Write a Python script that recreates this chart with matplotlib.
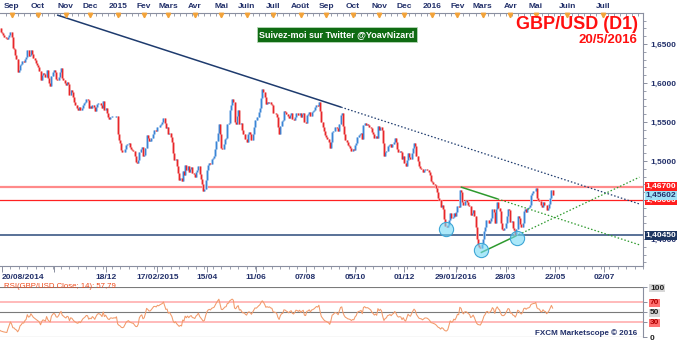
import numpy as np
import matplotlib
matplotlib.use("Agg")
import matplotlib.pyplot as plt
import matplotlib.transforms as mtransforms
from matplotlib.ticker import FixedLocator

# ---------------- data ----------------
first_session = "2014-07-21"   # first close in the list (kept for RSI warm-up)
origin_session = "2014-08-20"  # session index 0
last_session = "2016-05-20"

closes = [
    # Jul 21 - Aug 19 2014 (warm-up, left of the visible range)
    1.7090, 1.7060, 1.7040, 1.7000, 1.6985,
    1.6990, 1.6980, 1.6920, 1.6885, 1.6835,
    1.6870, 1.6870, 1.6855, 1.6815, 1.6795,
    1.6790, 1.6750, 1.6705, 1.6720, 1.6700,
    1.6710, 1.6660,
    # Aug 20 2014 onwards
    1.6640, 1.6610, 1.6590,
    1.6575, 1.6560, 1.6590, 1.6620, 1.6650,
    1.6590, 1.6450, 1.6440, 1.6360, 1.6310,
    1.6140, 1.6170, 1.6230, 1.6250, 1.6280,
    1.6270, 1.6310, 1.6330, 1.6420, 1.6350,
    1.6360, 1.6420, 1.6370, 1.6320, 1.6290,
    1.6260, 1.6230, 1.6200, 1.6160, 1.6040,
    1.6100, 1.6130, 1.6110, 1.6080, 1.6170,
    1.6060, 1.6000, 1.5960, 1.6090, 1.6140,
    1.6170, 1.6140, 1.6050, 1.6040, 1.6080,
    1.6140, 1.6190, 1.6070, 1.6040, 1.6000,
    1.5970, 1.6010, 1.5990, 1.5840, 1.5910,
    1.5890, 1.5820, 1.5760, 1.5720, 1.5680,
    1.5660, 1.5690, 1.5650, 1.5680, 1.5720,
    1.5740, 1.5760, 1.5790, 1.5780, 1.5680,
    1.5700, 1.5680, 1.5720, 1.5690, 1.5640,
    1.5690, 1.5730, 1.5750, 1.5740, 1.5720,
    1.5680, 1.5770, 1.5650, 1.5680, 1.5620,
    1.5560, 1.5540, 1.5570, 1.5570, 1.5560,
    1.5570, 1.5560, 1.5580, 1.5340, 1.5270,
    1.5230, 1.5140, 1.5110, 1.5120, 1.5160,
    1.5200, 1.5220, 1.5230, 1.5180, 1.5160,
    1.5140, 1.5130, 1.5060, 1.4990, 1.4980,
    1.5010, 1.5120, 1.5160, 1.5180, 1.5060,
    1.5080, 1.5170, 1.5330, 1.5300, 1.5260,
    1.5260, 1.5300, 1.5350, 1.5400, 1.5400,
    1.5390, 1.5440, 1.5430, 1.5460, 1.5480,
    1.5500, 1.5550, 1.5490, 1.5420, 1.5430,
    1.5340, 1.5360, 1.5310, 1.5250, 1.5100,
    1.5010, 1.5030, 1.4930, 1.4850, 1.4760,
    1.4780, 1.4740, 1.4870, 1.4820, 1.4950,
    1.4880, 1.4930, 1.4860, 1.4900, 1.4920,
    1.4840, 1.4830, 1.4800, 1.4860, 1.4890,
    1.4940, 1.4830, 1.4770, 1.4700, 1.4620,
    1.4640, 1.4760, 1.4880, 1.4950, 1.4980,
    1.4960, 1.5020, 1.5040, 1.5060, 1.5150,
    1.5260, 1.5360, 1.5480, 1.5350, 1.5170,
    1.5160, 1.5220, 1.5280, 1.5300, 1.5470,
    1.5490, 1.5650, 1.5720, 1.5790, 1.5760,
    1.5500, 1.5470, 1.5580, 1.5650, 1.5470,
    1.5490, 1.5400, 1.5340, 1.5350, 1.5280,
    1.5240, 1.5340, 1.5370, 1.5340, 1.5270,
    1.5350, 1.5440, 1.5530, 1.5520, 1.5570,
    1.5630, 1.5680, 1.5810, 1.5920, 1.5880,
    1.5820, 1.5730, 1.5760, 1.5740, 1.5760,
    1.5730, 1.5720, 1.5620, 1.5610, 1.5600,
    1.5570, 1.5440, 1.5350, 1.5450, 1.5510,
    1.5520, 1.5640, 1.5630, 1.5600, 1.5580,
    1.5550, 1.5590, 1.5610, 1.5540, 1.5520,
    1.5560, 1.5620, 1.5610, 1.5590, 1.5620,
    1.5570, 1.5600, 1.5620, 1.5500, 1.5490,
    1.5590, 1.5600, 1.5630, 1.5580, 1.5630,
    1.5640, 1.5660, 1.5690, 1.5720, 1.5710,
    1.5760, 1.5640, 1.5500, 1.5440, 1.5380,
    1.5330, 1.5310, 1.5280, 1.5250, 1.5170,
    1.5240, 1.5370, 1.5390, 1.5430, 1.5440,
    1.5420, 1.5380, 1.5480, 1.5590, 1.5610,
    1.5450, 1.5340, 1.5270, 1.5240, 1.5200,
    1.5190, 1.5170, 1.5130, 1.5150, 1.5140,
    1.5200, 1.5230, 1.5310, 1.5330, 1.5340,
    1.5360, 1.5280, 1.5460, 1.5490, 1.5460,
    1.5470, 1.5460, 1.5440, 1.5420, 1.5370,
    1.5340, 1.5300, 1.5320, 1.5290, 1.5450,
    1.5400, 1.5440, 1.5400, 1.5230, 1.5060,
    1.5110, 1.5130, 1.5190, 1.5200, 1.5220,
    1.5180, 1.5220, 1.5240, 1.5290, 1.5240,
    1.5160, 1.5120, 1.5130, 1.5120, 1.5030,
    1.5070, 1.4980, 1.4940, 1.5010, 1.5100,
    1.5050, 1.5030, 1.5100, 1.5170, 1.5230,
    1.5190, 1.5070, 1.5000, 1.4930, 1.4910,
    1.4900, 1.4860, 1.4880, 1.4900, 1.4900,
    1.4890, 1.4860, 1.4820, 1.4740, 1.4730,
    1.4710, 1.4690, 1.4660, 1.4600, 1.4530,
    1.4500, 1.4410, 1.4430, 1.4390, 1.4260,
    1.4170, 1.4160, 1.4180, 1.4250, 1.4330,
    1.4270, 1.4280, 1.4330, 1.4300, 1.4350,
    1.4420, 1.4410, 1.4630, 1.4600, 1.4480,
    1.4430, 1.4490, 1.4500, 1.4480, 1.4440,
    1.4420, 1.4310, 1.4330, 1.4370, 1.4290,
    1.4150, 1.4000, 1.3920, 1.3900, 1.3880,
    1.3930, 1.4000, 1.4100, 1.4150, 1.4240,
    1.4250, 1.4200, 1.4230, 1.4270, 1.4380,
    1.4340, 1.4200, 1.4380, 1.4470, 1.4400,
    1.4360, 1.4210, 1.4130, 1.4120, 1.4140,
    1.4200, 1.4290, 1.4390, 1.4370, 1.4220,
    1.4230, 1.4140, 1.4120, 1.4050, 1.4130,
    1.4300, 1.4270, 1.4190, 1.4150, 1.4200,
    1.4360, 1.4390, 1.4350, 1.4400, 1.4410,
    1.4440, 1.4560, 1.4590, 1.4610, 1.4620,
    1.4660, 1.4530, 1.4500, 1.4490, 1.4430,
    1.4410, 1.4480, 1.4440, 1.4430, 1.4370,
    1.4400, 1.4450, 1.4530, 1.46268, 1.45602,
]

# horizontal levels: resistance (light), resistance, support
level_values = [1.4670, 1.4500, 1.4045]
level_colors = ["#FF8A8A", "#FF2020", "#2B4A7A"]
level_widths = [1.6, 0.9, 1.1]
level_box_colors = ["#FF1E1E", "#FF1E1E", "#1C3560"]

# trend lines as (session index, price) anchor pairs
long_trend = [(45.7, 1.6872), (281.5, 1.5690)]
upper_wedge = [(380.7, 1.4667), (411.5, 1.4513)]
lower_wedge = [(397.3, 1.3824), (426.4, 1.4038)]

# highlighted lows
touch_x = [368.2, 397.3, 427.3]
touch_y = [1.4128, 1.3859, 1.4013]

month_dates = ["2014-09-01", "2014-10-01", "2014-11-01", "2014-12-01", "2015-01-01",
               "2015-02-01", "2015-03-01", "2015-04-01", "2015-05-01", "2015-06-01",
               "2015-07-01", "2015-08-01", "2015-09-01", "2015-10-01", "2015-11-01",
               "2015-12-01", "2016-01-01", "2016-02-01", "2016-03-01", "2016-04-01",
               "2016-05-01", "2016-06-01", "2016-07-01"]
month_labels = ["Sep", "Oct", "Nov", "Dec", "2015", "Fev", "Mars", "Avr", "Mai", "Juin",
                "Juil", "Août", "Sep", "Oct", "Nov", "Dec", "2016", "Fev", "Mars", "Avr",
                "Mai", "Juin", "Juil"]

date_ticks = ["2014-08-20", "2014-10-20", "2014-12-18", "2015-02-17", "2015-04-15",
              "2015-06-11", "2015-08-07", "2015-10-05", "2015-12-01", "2016-01-29",
              "2016-03-28", "2016-05-22", "2016-07-02"]
date_labels = ["20/08/2014", "", "18/12", "17/02/2015", "15/04", "11/06", "07/08",
               "05/10", "01/12", "29/01/2016", "28/03", "22/05", "02/07"]

price_ticks = [1.40, 1.45, 1.50, 1.55, 1.60, 1.65]
rsi_period = 14
rsi_levels = [100, 70, 50, 30, 0]

# ---------------- helpers ----------------
NAVY = "#22306A"
FONT = "Liberation Sans"
GRID = "#8A8FA0"


def session_x(day):
    """Trading-session index; after the last session the axis runs in calendar days."""
    d = np.datetime64(day)
    last = np.datetime64(last_session)
    if d <= last:
        return int(np.busday_count(origin_session, d))
    return int(np.busday_count(origin_session, last)) + int((d - last).astype(int))


def fmt(v, nd):
    return f"{v:.{nd}f}".replace(".", ",")


c = np.asarray(closes, dtype=float)
last_price = c[-1]
x = np.arange(len(c)) - int(np.busday_count(first_session, origin_session))
o = np.r_[c[0], c[:-1]]
up = c >= o
lo = np.minimum(o, c)
hi = np.maximum(o, c)
small = (hi - lo) < 0.0006
lo = np.where(small, lo - 0.0003, lo)
hi = np.where(small, hi + 0.0003, hi)

# Wilder RSI
diff = np.diff(c)
gain = np.maximum(diff, 0)
loss = np.maximum(-diff, 0)
rsi = np.full(len(c), np.nan)
ag = gain[:rsi_period].mean()
al = loss[:rsi_period].mean()
rsi[rsi_period] = 100 - 100 / (1 + ag / al)
for i in range(rsi_period + 1, len(c)):
    ag = (ag * (rsi_period - 1) + gain[i - 1]) / rsi_period
    al = (al * (rsi_period - 1) + loss[i - 1]) / rsi_period
    rsi[i] = 100 - 100 / (1 + ag / al)

W, H = 680, 340
fig = plt.figure(figsize=(W / 100, H / 100), dpi=100, facecolor="white")

xmin, xmax = -1.66, 532.0
ax = fig.add_axes([0, 1 - 266 / H, 643 / W, (266 - 13) / H])
ax.set_xlim(xmin, xmax)
ax.set_ylim(1.5 - (266 - 161) / 780, 1.5 + (161 - 13) / 780)
ax.set_facecolor("white")

# candles
ax.vlines(x[up], lo[up], hi[up], color="#AACBEF", lw=2.0, zorder=2)
ax.vlines(x[~up], lo[~up], hi[~up], color="#F6A8A8", lw=2.0, zorder=2)
ax.vlines(x[up], lo[up], hi[up], color="#3A85D6", lw=0.85, zorder=3)
ax.vlines(x[~up], lo[~up], hi[~up], color="#E8262A", lw=0.85, zorder=3)

# horizontal levels
for v, col, lw in zip(level_values, level_colors, level_widths):
    ax.axhline(v, color=col, lw=lw, zorder=1.5)


def trend(anchors, color, end_x, lw_solid, lw_dot):
    (x0, y0), (x1, y1) = anchors
    slope = (y1 - y0) / (x1 - x0)
    ax.plot([x0, x1], [y0, y1], color=color, lw=lw_solid, zorder=4, solid_capstyle="butt")
    ax.plot([x1, end_x], [y1, y1 + slope * (end_x - x1)], color=color, lw=lw_dot,
            ls=(0, (1.2, 1.6)), zorder=4)


trend(long_trend, "#1E3B6E", 529, 1.1, 0.9)
trend(upper_wedge, "#2E9A2E", 529, 1.1, 0.9)
trend(lower_wedge, "#2E9A2E", 529, 1.1, 0.9)

ax.scatter(touch_x, touch_y, s=105, facecolor=(0.45, 0.85, 0.96, 0.6),
           edgecolor="#3FA6D6", linewidth=0.8, zorder=5)

# axes styling
for side in ["left", "top"]:
    ax.spines[side].set_visible(False)
for side in ["right", "bottom"]:
    ax.spines[side].set_color(GRID)
    ax.spines[side].set_linewidth(0.8)

ax.yaxis.tick_right()
ax.set_yticks(price_ticks, [fmt(v, 4) for v in price_ticks])
ax.yaxis.set_minor_locator(FixedLocator(np.arange(1.37, 1.70, 0.01)))
ax.tick_params(axis="y", which="major", length=3, width=0.7, color=GRID,
               labelsize=6.0, labelcolor=NAVY, pad=2)
ax.tick_params(axis="y", which="minor", length=2, width=0.6, color=GRID)
for t in ax.get_yticklabels():
    t.set_fontweight("bold")
    t.set_fontfamily(FONT)

ax.set_xticks([session_x(d) for d in date_ticks], date_labels)
ax.xaxis.set_minor_locator(FixedLocator(np.arange(0, 540, 7)))
ax.tick_params(axis="x", which="major", length=4, width=0.7, color=GRID,
               labelsize=6.0, labelcolor=NAVY, pad=2)
ax.tick_params(axis="x", which="minor", length=2, width=0.6, color=GRID)
for t in ax.get_xticklabels():
    t.set_fontweight("bold")
    t.set_fontfamily(FONT)
ax.get_xticklabels()[0].set_horizontalalignment("left")

# month ruler on top
month_x = [session_x(d) for d in month_dates]
top = ax.secondary_xaxis("top")
top.set_xticks(month_x, month_labels)
top.xaxis.set_minor_locator(FixedLocator(np.arange(-2, 535, 5)))
top.tick_params(axis="x", which="major", length=3, width=0.7, direction="in",
                color=GRID, labelsize=6.0, labelcolor=NAVY, pad=2)
top.tick_params(axis="x", which="minor", length=2, width=0.6, direction="in",
                color=GRID)
top.spines["top"].set_color(GRID)
top.spines["top"].set_linewidth(0.8)
for t in top.get_xticklabels():
    t.set_fontweight("bold")
    t.set_fontfamily(FONT)
mark_tr = mtransforms.blended_transform_factory(ax.transData, ax.transAxes)
ax.plot(month_x, [0.992] * len(month_x), ls="none", marker="v", ms=3.2,
        color="#F2A33A", transform=mark_tr, clip_on=False, zorder=6)

# price tags on the right
tag_tr = mtransforms.blended_transform_factory(ax.transAxes, ax.transData)
for k in [1, 0, 2]:
    ax.text(1.004, level_values[k], fmt(level_values[k], 5), transform=tag_tr,
            ha="left", va="center", fontsize=6.0, fontweight="bold", family=FONT,
            color="white", zorder=10 + k, clip_on=False,
            bbox=dict(boxstyle="square,pad=0.12", fc=level_box_colors[k], ec="none"))
ax.text(1.004, last_price, fmt(last_price, 5), transform=tag_tr, ha="left",
        va="center", fontsize=6.0, fontweight="bold", family=FONT, color=NAVY,
        zorder=20, clip_on=False,
        bbox=dict(boxstyle="square,pad=0.12", fc="#9FE2F7", ec="none"))

# titles
ax.text(0.992, 0.955, "GBP/USD (D1)", transform=ax.transAxes, ha="right", va="center",
        fontsize=13, fontweight="bold", family=FONT, color="#FF1010", zorder=12)
ax.text(0.992, 0.895, "20/5/2016", transform=ax.transAxes, ha="right", va="center",
        fontsize=9.5, fontweight="bold", family=FONT, color="#FF1010", zorder=12)
ax.text(337 / 643, 1 - (34.5 - 13) / 253, "Suivez-moi sur Twitter @YoavNizard",
        transform=ax.transAxes, ha="center", va="center", fontsize=6.5,
        fontweight="bold", family=FONT, color="white", zorder=12,
        bbox=dict(boxstyle="square,pad=0.3", fc="#0F6B12", ec="#B8D8B8", lw=0.6))

# ---------------- RSI panel ----------------
rx = fig.add_axes([0, 1 - 337 / H, 643 / W, 50 / H])
rx.set_xlim(xmin, xmax)
rx.set_ylim(0, 100)
for v in rsi_levels:
    if v in (70, 30):
        rx.axhline(v, color="#FFB4B4", lw=1.3, zorder=1)
    else:
        rx.axhline(v, color="#7A7A7A", lw=0.8, zorder=1)
rx.plot(x, rsi, color="#F29A6A", lw=0.75, zorder=3)
for side in ["left", "top", "bottom"]:
    rx.spines[side].set_visible(False)
rx.spines["right"].set_color(GRID)
rx.spines["right"].set_linewidth(0.8)
rx.set_xticks([])
rx.yaxis.tick_right()
rx.set_yticks(rsi_levels, [str(v) for v in rsi_levels])
rx.tick_params(axis="y", length=3, width=0.7, color=GRID, labelsize=6.0, pad=2)
for t, v in zip(rx.get_yticklabels(), rsi_levels):
    t.set_fontweight("bold")
    t.set_fontfamily(FONT)
    if v in (70, 30):
        t.set_color("#B00000")
        t.set_bbox(dict(boxstyle="square,pad=0.1", fc="#FF7070", ec="none"))
    elif v in (100, 50):
        t.set_color("#202020")
        t.set_bbox(dict(boxstyle="square,pad=0.1", fc="#D8D8D8", ec="none"))
    else:
        t.set_color("#202020")

last_rsi = rsi[-1]
rx.text(4 / 643, 1.02, f"RSI(GBP/USD.Close; {rsi_period}): {fmt(last_rsi, 2)}",
        transform=rx.transAxes, ha="left", va="center", fontsize=5.6,
        family=FONT, color="#F04A1A", zorder=6)
rx.text(637 / 643, 0.08, "FXCM Marketscope © 2016", transform=rx.transAxes,
        ha="right", va="center", fontsize=5.8, fontweight="bold", family=FONT,
        color=NAVY, zorder=6)

fig.savefig("out.png", dpi=100, facecolor="white")
